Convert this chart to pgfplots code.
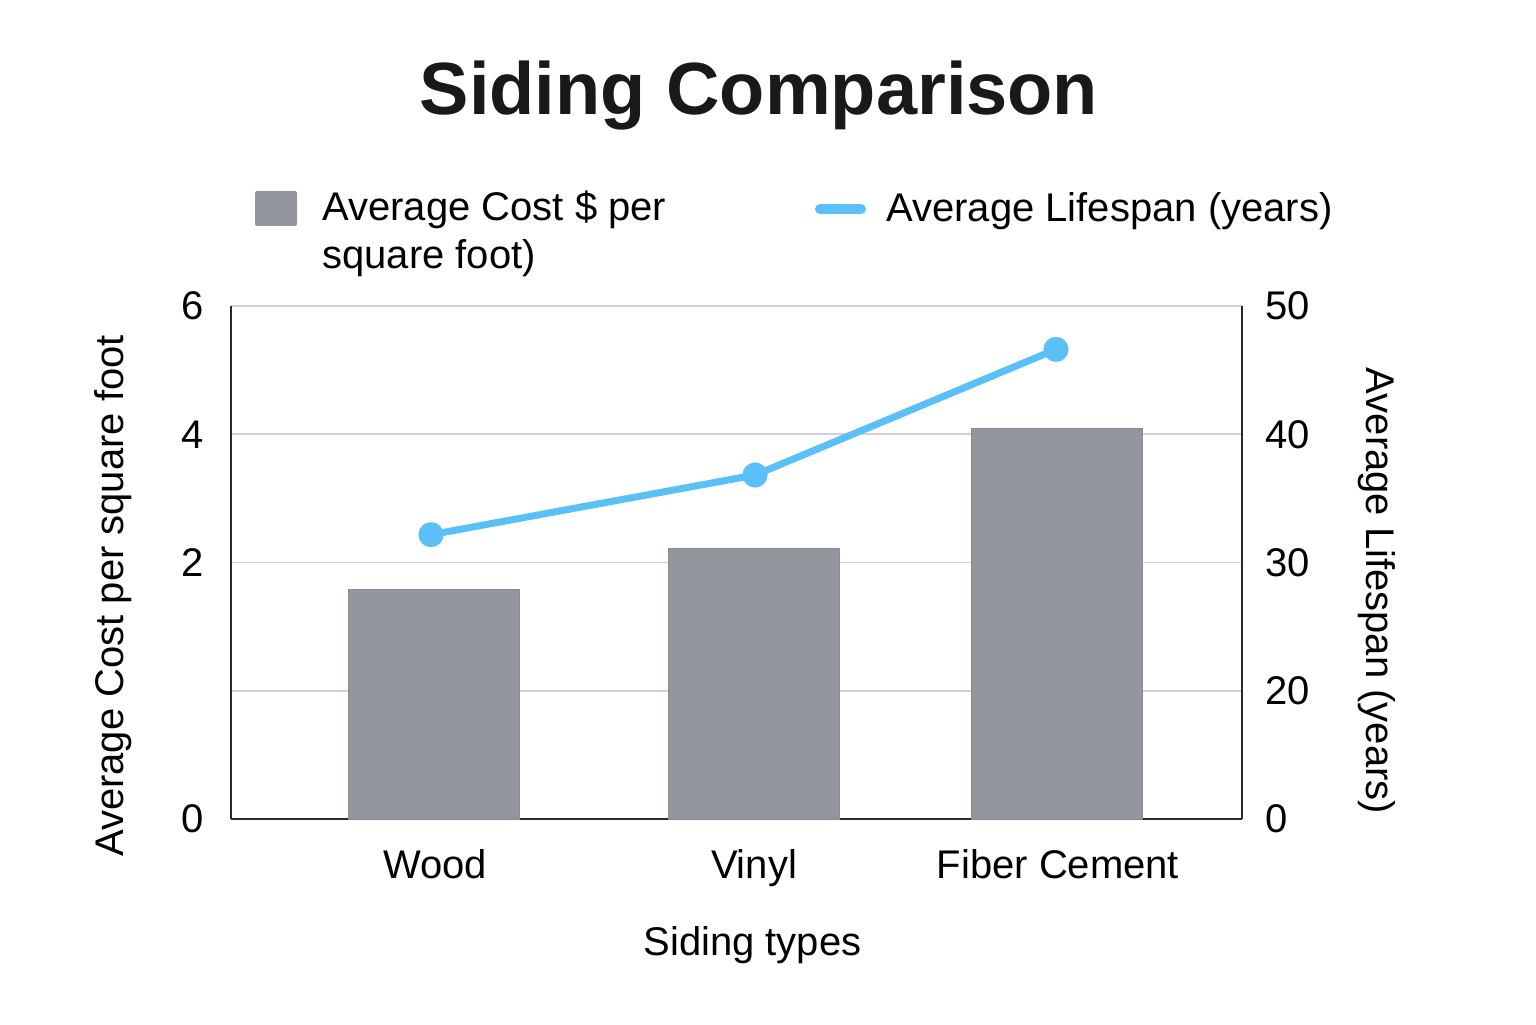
\documentclass[border=0pt]{standalone}
\usepackage{fontspec}
\setmainfont{Liberation Sans}
\usepackage{pgfplots}
\pgfplotsset{compat=1.18}
\definecolor{bargrey}{HTML}{93969D}
\definecolor{bluel}{HTML}{5BC0F7}
\definecolor{gridc}{HTML}{D2D2D2}
\definecolor{axc}{HTML}{2A2A2A}
\newcommand{\lf}{\fontsize{20}{24}\selectfont}
\begin{document}
\begin{tikzpicture}
\path (0pt,0pt) rectangle (768pt,512pt);
\node[anchor=base, inner sep=0pt, font=\fontsize{37}{44}\selectfont\bfseries, text=black!90] at (379.5pt,454.5pt) {Siding Comparison};
% legend
\fill[bargrey, rounded corners=1pt] (127.5pt,399pt) rectangle (148.5pt,416.5pt);
\node[anchor=base west, inner sep=0pt, font=\lf] at (161pt,401.5pt) {Average Cost \$ per};
\node[anchor=base west, inner sep=0pt, font=\lf] at (161pt,377.5pt) {square foot)};
\draw[bluel, line width=5pt, line cap=round] (410pt,407.5pt) -- (430.5pt,407.5pt);
\node[anchor=base west, inner sep=0pt, font=\lf] at (443pt,401pt) {Average Lifespan (years)};

\begin{axis}[
  at={(115.5pt,102.5pt)}, anchor=south west,
  width=505.5pt, height=256.5pt, scale only axis,
  xmin=231, xmax=1242, ymin=0, ymax=4,
  axis x line*=bottom, axis y line*=left,
  axis line style={draw=axc, line width=0.8pt},
  major tick length=0pt,
  xtick={435,754,1058},
  xticklabels={Wood,Vinyl,Fiber Cement},
  ytick={0,1,2,3,4},
  yticklabels={0,,2,4,6},
  ymajorgrids,
  grid style={draw=gridc, line width=0.8pt},
  xticklabel style={font=\lf, anchor=base, inner sep=0pt, yshift=-29.5pt},
  yticklabel style={font=\lf, anchor=east, inner sep=0pt, xshift=-13.5pt},
  xlabel={Siding types},
  every axis x label/.style={at={(axis description cs:0.5158,-0.2651)}, anchor=base, inner sep=0pt, font=\lf},
  ylabel={Average Cost per square foot},
  every axis y label/.style={at={(axis description cs:-0.1068,0.4347)}, rotate=90, anchor=base, inner sep=0pt, font=\lf},
]
\addplot[ybar, bar width=171, fill=bargrey, draw=bargrey!92!black, line width=0.5pt]
  coordinates {(433.5,1.786) (754,2.111) (1056.5,3.046)};
\end{axis}

\begin{axis}[
  at={(115.5pt,102.5pt)}, anchor=south west,
  width=505.5pt, height=256.5pt, scale only axis,
  xmin=231, xmax=1242, ymin=0, ymax=4,
  axis x line=none, axis y line*=right,
  axis line style={draw=axc, line width=0.8pt},
  major tick length=0pt,
  ytick={0,1,2,3,4},
  yticklabels={0,20,30,40,50},
  yticklabel style={font=\lf, anchor=west, inner sep=0pt, xshift=11.5pt},
  ylabel={Average Lifespan (years)},
  every axis y label/.style={at={(axis description cs:1.1227,0.4444)}, rotate=-90, anchor=base, inner sep=0pt, font=\lf},
  clip=false,
]
\addplot[bluel, line width=3.5pt, mark=*, mark size=6.2pt, mark options={fill=bluel, draw=bluel, line width=0.1pt}]
  coordinates {(431,2.217) (755,2.682) (1056,3.662)};
\end{axis}
\end{tikzpicture}
\end{document}
